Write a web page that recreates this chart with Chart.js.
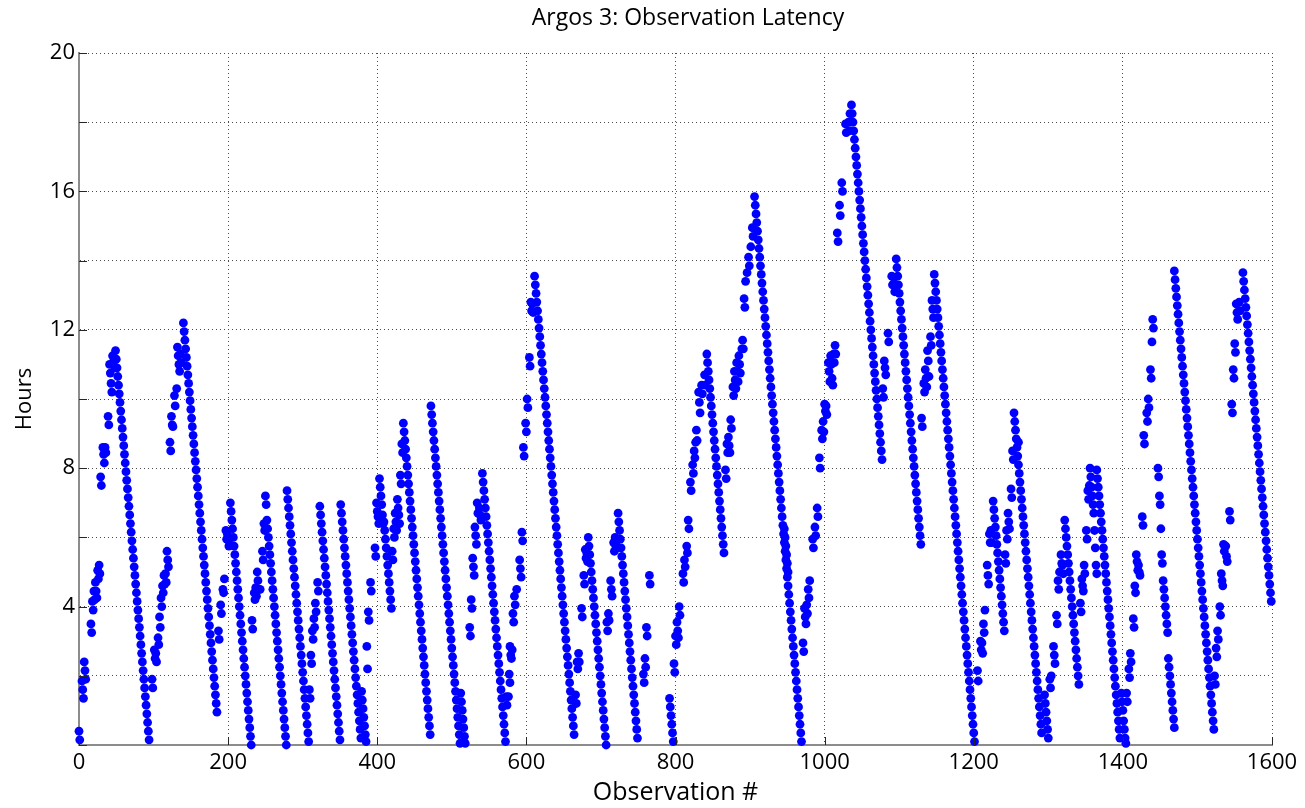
<!DOCTYPE html>
<html>
<head>
<meta charset="utf-8">
<script src="https://cdn.jsdelivr.net/npm/chart.js@4.4.1/dist/chart.umd.min.js"></script>
<style>
  html, body { margin: 0; padding: 0; background: #ffffff; }
  canvas { display: block; }
</style>
</head>
<body>
<canvas id="c" width="1305" height="808"></canvas>
<script>
// ---- Data ----
const chartTitle = "Argos 3: Observation Latency";
const xAxisTitle = "Observation #";
const yAxisTitle = "Hours";
const xTickValues = [0, 200, 400, 600, 800, 1000, 1200, 1400, 1600];
const yLabelValues = [4, 8, 12, 16, 20];

// first observation number of each run of consecutive observations
const segStart = [
  0,4,7,16,18,20,22,25,27,29,
  32,35,39,41,45,47,49,98,101,103,
  106,108,110,112,114,116,118,122,124,128,
  131,132,136,140,187,190,193,195,197,199,
  202,203,232,235,237,239,243,246,248,250,
  252,279,309,311,313,315,317,320,323,351,
  379,386,388,391,397,399,401,403,407,409,
  420,422,424,427,429,431,433,435,472,512,
  524,526,528,531,534,537,541,573,576,577,
  578,581,582,584,587,591,594,596,599,601,
  604,606,608,611,666,668,670,674,677,679,
  681,683,708,710,713,717,719,721,723,757,
  759,761,765,792,798,800,802,805,810,812,
  815,817,820,823,825,827,828,831,835,839,
  842,867,869,871,874,877,879,882,885,889,
  890,892,894,896,898,901,903,906,946,971,
  973,976,978,980,984,987,990,993,996,998,
  1000,1002,1005,1008,1010,1012,1014,1017,1020,1023,
  1028,1032,1034,1036,1078,1080,1085,1090,1093,1096,
  1130,1133,1135,1138,1140,1142,1144,1147,1205,1209,
  1211,1213,1215,1218,1221,1223,1226,1242,1244,1246,
  1250,1252,1254,1260,1295,1302,1304,1307,1311,1313,
  1315,1317,1319,1322,1343,1345,1348,1351,1353,1355,
  1356,1360,1362,1365,1398,1405,1408,1410,1414,1416,
  1418,1421,1426,1428,1432,1434,1437,1439,1440,1447,
  1449,1451,1452,1454,1461,1469,1523,1525,1527,1530,
  1532,1535,1538,1543,1546,1548,1550,1552,1556,1561
];

// latency (hours) of each observation in the run
const segHours = [
  // 1-10
  [0.4,0.15],[1.85,1.6,1.35],[2.4,2.15,1.9],[3.5,3.25],[4.15,3.9],[4.45,4.2],[4.7,4.45,4.25],[5.05,4.8],[5.2,4.95],[7.75,7.5],
  // 11-20
  [8.6,8.4,8.15],[8.6,8.45],[9.5,9.25],[11,10.75,10.45,10.2],[11.25,11],[11.15,10.9],
  [11.4,11.15,10.9,10.65,10.4,10.15,9.9,9.65,9.4,9.15,8.9,8.65,8.4,8.15,7.9,7.65,7.4,7.15,6.9,6.65,6.4,6.15,5.9,5.65,5.4,5.15,4.9,4.65,4.4,4.15,3.9,3.65,3.4,3.15,2.9,2.65,2.4,2.15,1.9,1.65,1.4,1.15,0.9,0.65,0.4,0.15],
  [1.9,1.65],[2.75,2.5],[2.65,2.4],
  // 21-30
  [3.1,2.9],[3.7,3.4],[4.25,4],[4.6,4.4],[4.9,4.65],[4.95,4.7],[5.6,5.35,5.15],[8.75,8.5],[9.5,9.25,9.2],[10.1,9.8],
  // 31-40
  [10.3],[11.5,11.25,11,10.8],[11.3,11.05],
  [12.2,11.95,11.7,11.45,11.2,10.95,10.7,10.45,10.2,9.95,9.7,9.45,9.2,8.95,8.7,8.45,8.2,7.95,7.7,7.45,7.2,6.95,6.7,6.45,6.2,5.95,5.7,5.45,5.2,4.95,4.7,4.45,4.2,3.95,3.7,3.45,3.2,2.95,2.7,2.45,2.2,1.95,1.7,1.45,1.2,0.95],
  [3.3,3.05],[4.05,3.8],[4.5,4.4],[4.8],[6.2,5.95],[6.1,5.95,5.75],
  // 41-50
  [5.8],
  [7,6.75,6.5,6.25,6,5.75,5.5,5.25,5,4.75,4.5,4.25,4,3.75,3.5,3.25,3,2.75,2.5,2.25,2,1.75,1.5,1.25,1,0.75,0.5,0.25,0],
  [3.6,3.35],[4.4,4.2],[4.55,4.3],[5,4.75,4.5],[4.5],[5.6,5.35],[6.4,6.2],[7.2,6.95],
  // 51-60
  [6.5,6.25,6,5.75,5.5,5.25,5,4.75,4.5,4.25,4,3.75,3.5,3.25,3,2.75,2.5,2.25,2,1.75,1.5,1.25,1,0.75,0.5,0.25,0],
  [7.35,7.1,6.85,6.6,6.35,6.1,5.85,5.6,5.35,5.1,4.85,4.6,4.35,4.1,3.85,3.6,3.35,3.1,2.85,2.6,2.35,2.1,1.85,1.6,1.35,1.1,0.85,0.6,0.35,0.1],
  [1.6,1.35],[2.6,2.35],[3.3,3.05],[3.65,3.4],[4.1,3.85],[4.7,4.45],
  [6.9,6.65,6.4,6.15,5.9,5.65,5.4,5.15,4.9,4.65,4.4,4.15,3.9,3.65,3.4,3.15,2.9,2.65,2.4,2.15,1.9,1.65,1.4,1.15,0.9,0.65,0.4,0.15],
  [6.95,6.7,6.45,6.2,5.95,5.7,5.45,5.2,4.95,4.7,4.45,4.2,3.95,3.7,3.45,3.2,2.95,2.7,2.45,2.2,1.95,1.7,1.45,1.2,0.95,0.7,0.45,0.2],
  // 61-70
  [1.55,1.3,1.05,0.8,0.55,0.3,0.1],[2.85,2.2],[3.85,3.6],[4.7,4.45],[5.7,5.45],[7,6.75],[6.6,6.4],[7.7,7.45,7.2,6.95],[6.65,6.4],
  [6.45,6.2,5.95,5.7,5.45,5.2,4.95,4.7,4.45,4.2,3.95],
  // 71-80
  [5.6,5.35],[6.25,6],[6.7,6.45,6.2],[7.1,6.85],[6.65,6.4],[7.8,7.55],[8.7,8.45],
  [9.3,9.05,8.8,8.55,8.3,8.05,7.8,7.55,7.3,7.05,6.8,6.55,6.3,6.05,5.8,5.55,5.3,5.05,4.8,4.55,4.3,4.05,3.8,3.55,3.3,3.05,2.8,2.55,2.3,2.05,1.8,1.55,1.3,1.05,0.8,0.55,0.3],
  [9.8,9.55,9.3,9.05,8.8,8.55,8.3,8.05,7.8,7.55,7.3,7.05,6.8,6.55,6.3,6.05,5.8,5.55,5.3,5.05,4.8,4.55,4.3,4.05,3.8,3.55,3.3,3.05,2.8,2.55,2.3,2.05,1.8,1.55,1.3,1.05,0.8,0.55,0.3,0.05],
  [1.5,1.25,1,0.75,0.5,0.25,0.05],
  // 81-90
  [3.4,3.15],[4.2,3.95],[5.4,5.15,4.9],[6.3,6.05,5.8],[7,6.7],[6.85,6.65,6.5],
  [7.85,7.6,7.35,7.1,6.85,6.6,6.35,6.1,5.85,5.6,5.35,5.1,4.85,4.6,4.35,4.1,3.85,3.6,3.35,3.1,2.85,2.6,2.35,2.1,1.85,1.6,1.35,1.1,0.85,0.6,0.35,0.1],
  [1.4,1.15],[1.4],[2.05,1.8],
  // 91-100
  [2.85,2.6,2.5],[2.75],[3.8,3.55],[4.3,4.05],[4.5],[5.35,5.1,4.85],[6.15,5.9],[8.6,8.35],[9.3,9.05],[10,9.75],
  // 101-110
  [11.2,10.95],[12.8,12.55],[12.75,12.5],
  [13.55,13.3,13.05,12.8,12.55,12.3,12.05,11.8,11.55,11.3,11.05,10.8,10.55,10.3,10.05,9.8,9.55,9.3,9.05,8.8,8.55,8.3,8.05,7.8,7.55,7.3,7.05,6.8,6.55,6.3,6.05,5.8,5.55,5.3,5.05,4.8,4.55,4.3,4.05,3.8,3.55,3.3,3.05,2.8,2.55,2.3,2.05,1.8,1.55,1.3,1.05,0.8,0.55,0.3],
  [1.45,1.2],[2.4,2.2],[2.65,2.4],[3.95,3.7],[4.9,4.65],[5.65,5.4],
  // 111-120
  [5.55,5.3],
  [6,5.75,5.5,5.25,5,4.75,4.5,4.25,4,3.75,3.5,3.25,3,2.75,2.5,2.25,2,1.75,1.5,1.25,1,0.75,0.5,0.25,0],
  [3.55,3.3],[3.8,3.6],[4.75,4.5,4.3],[5.85,5.6],[6,5.75],[5.9,5.7],
  [6.7,6.45,6.2,5.95,5.7,5.45,5.2,4.95,4.7,4.45,4.2,3.95,3.7,3.45,3.2,2.95,2.7,2.45,2.2,1.95,1.7,1.45,1.2,0.95,0.7,0.45,0.2],
  [2.05,1.8],
  // 121-130
  [2.5,2.25],[3.4,3.15],[4.9,4.65],[1.35,1.1,0.85,0.6,0.35,0.1],[2.35,2.1],[3.15,2.9],[3.55,3.3,3.1],[4,3.75],[4.95,4.7],[5.35,5.15],
  // 131-140
  [5.75,5.55],[6.5,6.25],[7.6,7.35],[8.1,7.85],[8.5,8.3],[8.75],[9.1,8.8],[10.2,9.9,9.6],[10.4,10.15],[10.7,10.4],
  // 141-150
  [11.3,11.05,10.8,10.55,10.3,10.05,9.8,9.55,9.3,9.05,8.8,8.55,8.3,8.05,7.8,7.55,7.3,7.05,6.8,6.55,6.3,6.05,5.8,5.55],
  [7.95,7.7],[8.7,8.45],[8.9,8.65,8.45],[9.4,9.15],[10.35,10.1],[10.8,10.55,10.3],[11.05,10.8,10.5],[11.25,11,10.75],[11.45],
  // 151-160
  [11.7,11.45],[12.9,12.65],[13.4],[13.65],[14.1,13.85],[14.4],[14.95,14.7],
  [15.85,15.6,15.35,15.1,14.85,14.6,14.35,14.1,13.85,13.6,13.35,13.1,12.85,12.6,12.35,12.1,11.85,11.6,11.35,11.1,10.85,10.6,10.35,10.1,9.85,9.6,9.35,9.1,8.85,8.6,8.35,8.1,7.85,7.6,7.35,7.1,6.85,6.6,6.35,6.1,5.85,5.6,5.35,5.1,4.85,4.6,4.35,4.1,3.85,3.6,3.35,3.1,2.85,2.6,2.35,2.1,1.85,1.6,1.35,1.1,0.85,0.6,0.35,0.1],
  [6.25,6,5.75,5.5,5.25,5],[2.95,2.7],
  // 161-170
  [3.95,3.7,3.5],[4.05,3.8],[4.5,4.25],[4.75],[5.95,5.7],[6.3,6.05],[6.85,6.6],[8.3,8],[9.1,8.85],[9.35,9.05],
  // 171-180
  [9.85,9.65],[9.8,9.55],[11.05,10.8,10.5],[11.25,11],[10.6,10.4],[11.3,11.05],[11.55,11.3],[14.8,14.55],[15.6,15.3],[16.25,16],
  // 181-190
  [17.95,17.7],[18,17.75],[18.25,18],
  [18.5,18.25,18,17.75,17.5,17.25,17,16.75,16.5,16.25,16,15.75,15.5,15.25,15,14.75,14.5,14.25,14,13.75,13.5,13.25,13,12.75,12.5,12.25,12,11.75,11.5,11.25,11,10.75,10.5,10.25,10,9.75,9.5,9.25,9,8.75,8.5,8.25],
  [10.3,10.05],[11.1,10.9,10.7],[11.9,11.65],[13.55,13.3],[13.35,13.1],
  [14.05,13.8,13.55,13.3,13.05,12.8,12.55,12.3,12.05,11.8,11.55,11.3,11.05,10.8,10.55,10.3,10.05,9.8,9.55,9.3,9.05,8.8,8.55,8.3,8.05,7.8,7.55,7.3,7.05,6.8,6.55,6.3,6.05,5.8],
  // 191-200
  [9.45,9.2],[10.45,10.2],[10.85,10.6,10.35],[11.4,11.1],[10.65],[11.8,11.55],[12.85,12.6,12.35],
  [13.6,13.35,13.1,12.85,12.6,12.35,12.1,11.85,11.6,11.35,11.1,10.85,10.6,10.35,10.1,9.85,9.6,9.35,9.1,8.85,8.6,8.35,8.1,7.85,7.6,7.35,7.1,6.85,6.6,6.35,6.1,5.85,5.6,5.35,5.1,4.85,4.6,4.35,4.1,3.85,3.6,3.35,3.1,2.85,2.6,2.35,2.1,1.85,1.6,1.35,1.1,0.85,0.6,0.35,0.1],
  [2.15,1.85],[3,2.75],
  // 201-210
  [2.95,2.65],[3.5,3.25],[3.9],[5.2,4.9,4.65],[6.1,5.85],[6.2,5.85],
  [7.05,6.8,6.55,6.3,6.05,5.8,5.55,5.3,5.05,4.8,4.55,4.3,4.05,3.8,3.55,3.3],
  [5.5,5.25],[6.2,5.95],[6.7,6.45,6.25],
  // 211-220
  [7.4,7.15],[8.5,8.25],
  [9.6,9.35,9.1,8.85,8.6,8.35,8.1,7.85,7.6,7.35,7.1,6.85,6.6,6.35,6.1,5.85,5.6,5.35,5.1,4.85,4.6,4.35,4.1,3.85,3.6,3.35,3.1,2.85,2.6,2.35,2.1,1.85,1.6,1.35,1.1,0.85,0.6,0.35],
  [8.75],[1.45,1.2,0.95,0.7,0.45,0.2],[1.9,1.65],[2],[2.85,2.6,2.35],[3.75,3.5],[4.75,4.5],
  // 221-230
  [5],[5.5,5.25],[5.2,4.95],
  [6.5,6.25,6,5.75,5.5,5.25,5,4.75,4.5,4.25,4,3.75,3.5,3.25,3,2.75,2.5,2.25,2,1.75],
  [4.1,3.85],[4.8,4.6,4.45],[5.2,4.95],[6.2,5.95],[7.35,7.1],[7.5],
  // 231-240
  [8,7.75,7.45,7.2],[6.95,6.7],[6.2,5.7,5.2,4.95],
  [7.95,7.7,7.45,7.2,6.95,6.7,6.45,6.2,5.95,5.7,5.45,5.2,4.95,4.7,4.45,4.2,3.95,3.7,3.45,3.2,2.95,2.7,2.45,2.2,1.95,1.7,1.45,1.2,0.95,0.7,0.45,0.2],
  [1.5,1.25,1,0.7,0.45,0.2,0.05],[1.5,1.25],[2.2,1.95],[2.65,2.4],[3.65,3.4],[4.6,4.4],
  // 241-250
  [5.5,5.3,5.05],[5.2,5,4.9],[6.6,6.35],[8.95,8.7],[9.6,9.35],[10,9.75],[10.85,10.6],[11.65],[12.3,12.05],[8,7.75],
  // 251-260
  [7.2,6.95],[6.25],[5.5,5.25],[4.75,4.5,4.25,4,3.75,3.5,3.25],[2.5,2.25,2,1.75,1.5,1.25,1,0.75,0.5],
  [13.7,13.45,13.2,12.95,12.7,12.45,12.2,11.95,11.7,11.45,11.2,10.95,10.7,10.45,10.2,9.95,9.7,9.45,9.2,8.95,8.7,8.45,8.2,7.95,7.7,7.45,7.2,6.95,6.7,6.45,6.2,5.95,5.7,5.45,5.2,4.95,4.7,4.45,4.2,3.95,3.7,3.45,3.2,2.95,2.7,2.45,2.2,1.95,1.7,1.45,1.2,0.95,0.7,0.45],
  [2,1.75],[2.8,2.55],[3.3,3.05],[4,3.75],
  // 261-270
  [4.95,4.75,4.6],[5.8,5.6],[5.75,5.45,5.3],[6.75,6.5],[9.85,9.6],[10.85,10.6],[11.6,11.35],[12.75,12.5,12.3],[12.8,12.55],
  [13.65,13.4,13.15,12.9,12.65,12.4,12.15,11.9,11.65,11.4,11.15,10.9,10.65,10.4,10.15,9.9,9.65,9.4,9.15,8.9,8.65,8.4,8.15,7.9,7.65,7.4,7.15,6.9,6.65,6.4,6.15,5.9,5.65,5.4,5.15,4.9,4.65,4.4,4.15]
];

// ---- build the point table from the arrays ----
const points = [];
segStart.forEach((start, i) => {
  (segHours[i] || []).forEach((h, k) => points.push({ x: start + k, y: h }));
});

const FONT = "'Open Sans', 'Noto Sans', 'DejaVu Sans', sans-serif";
const TITLE_CENTER_X = 688;

// centre the title where it sits in the reference
const titlePlacement = {
  id: 'titlePlacement',
  afterLayout(chart) {
    const tb = chart.titleBlock;
    if (!tb) return;
    const w = tb.right - tb.left;
    tb.left = TITLE_CENTER_X - w / 2;
    tb.right = TITLE_CENTER_X + w / 2;
  }
};

// inward tick marks (MATLAB style)
const inwardTicks = {
  id: 'inwardTicks',
  afterDraw(chart) {
    const { ctx, chartArea, scales } = chart;
    ctx.save();
    ctx.strokeStyle = '#262626';
    ctx.lineWidth = 1;
    ctx.beginPath();
    scales.y.ticks.forEach(t => {
      const y = Math.round(scales.y.getPixelForValue(t.value)) + 0.5;
      ctx.moveTo(chartArea.left, y);
      ctx.lineTo(chartArea.left + 8, y);
    });
    scales.x.ticks.forEach(t => {
      const x = Math.round(scales.x.getPixelForValue(t.value)) + 0.5;
      ctx.moveTo(x, chartArea.bottom);
      ctx.lineTo(x, chartArea.bottom - 8);
    });
    ctx.stroke();
    ctx.restore();
  }
};

new Chart(document.getElementById('c'), {
  type: 'scatter',
  data: {
    datasets: [{
      data: points,
      pointRadius: 4.4,
      pointHoverRadius: 4.4,
      pointBackgroundColor: '#0000ff',
      pointBorderColor: '#0000ff',
      pointBorderWidth: 0,
      showLine: false,
      clip: false
    }]
  },
  options: {
    responsive: false,
    animation: false,
    devicePixelRatio: 1,
    layout: { padding: { left: 0, right: 33, top: 0, bottom: 0 } },
    plugins: {
      legend: { display: false },
      tooltip: { enabled: false },
      title: {
        display: true,
        text: chartTitle,
        color: '#000000',
        font: { family: FONT, size: 23, weight: 'normal' },
        padding: { top: 5, bottom: 20.4 }
      }
    },
    scales: {
      x: {
        type: 'linear',
        min: 0, max: 1600,
        afterBuildTicks(scale) { scale.ticks = xTickValues.map(v => ({ value: v })); },
        ticks: {
          color: '#000000',
          font: { family: FONT, size: 22 },
          padding: 5,
          maxRotation: 0,
          autoSkip: false,
          callback: (v) => String(v)
        },
        grid: { color: '#4a4a4a', lineWidth: 1, drawTicks: false },
        border: { display: true, color: '#8c8c8c', width: 2, dash: [1, 3] },
        title: {
          display: true, text: xAxisTitle, color: '#000000',
          font: { family: FONT, size: 25 },
          padding: { top: 0, bottom: 0 }
        },
        afterFit(scale) { scale.height = 63; scale.paddingLeft = 0; scale.paddingRight = 0; }
      },
      y: {
        type: 'linear',
        min: 0, max: 20,
        ticks: {
          stepSize: 2,
          color: '#000000',
          font: { family: FONT, size: 22 },
          padding: 4,
          autoSkip: false,
          callback: (v) => yLabelValues.includes(v) ? String(v) : ''
        },
        grid: { color: '#4a4a4a', lineWidth: 1, drawTicks: false },
        border: { display: true, color: '#8c8c8c', width: 2, dash: [1, 3] },
        title: {
          display: true, text: yAxisTitle, color: '#000000',
          font: { family: FONT, size: 22 },
          padding: { top: 12, bottom: 0 }
        },
        afterFit(scale) { scale.width = 79; scale.paddingTop = 0; scale.paddingBottom = 0; }
      }
    }
  },
  plugins: [titlePlacement, inwardTicks]
});
</script>
</body>
</html>
